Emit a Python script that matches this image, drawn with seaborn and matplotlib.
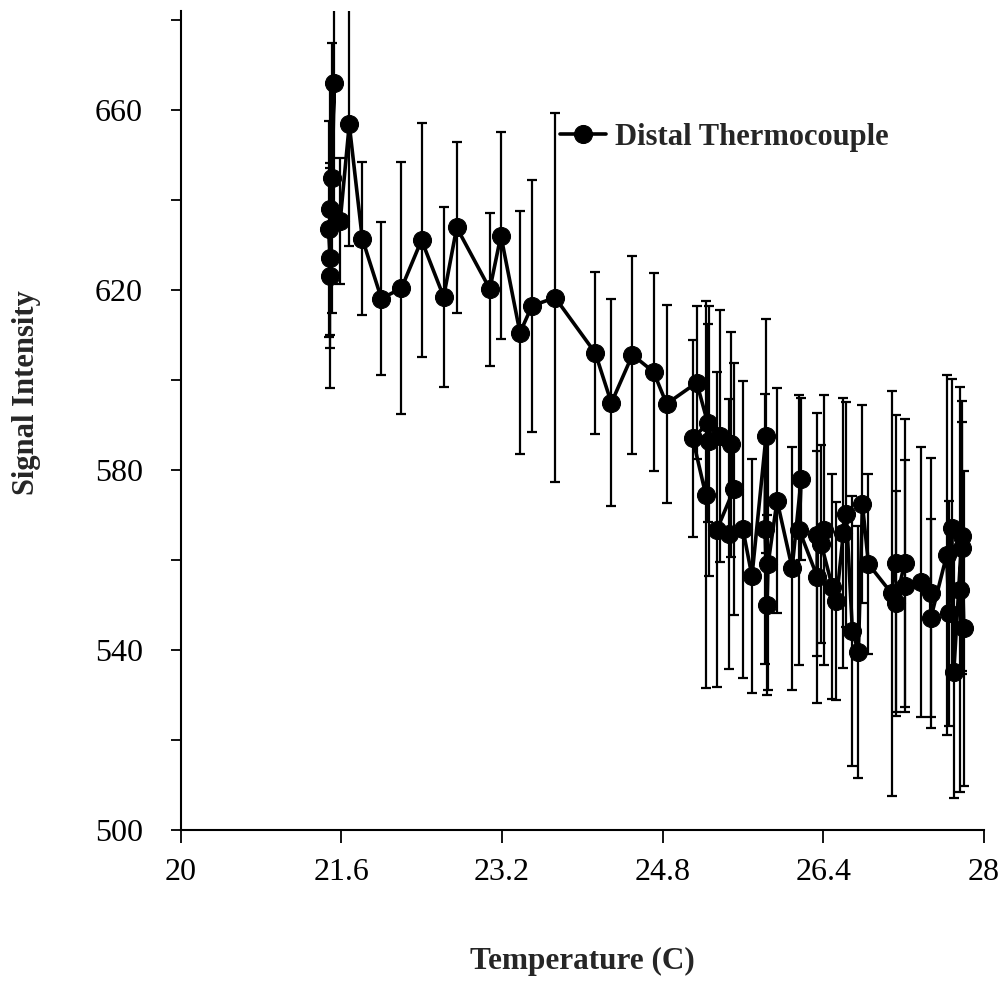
import matplotlib
matplotlib.use("Agg")
import matplotlib.pyplot as plt
import seaborn as sns
import pandas as pd

# ---- data ----
temperature = [21.49, 21.48, 21.49, 21.51, 21.53, 21.49, 21.59, 21.68, 21.81, 22.00,
               22.20, 22.40, 22.62, 22.75, 23.08, 23.19, 23.38, 23.50, 23.73, 24.13,
               24.29, 24.50, 24.71, 24.84, 25.14, 25.25, 25.10, 25.23, 25.26, 25.37,
               25.48, 25.51, 25.34, 25.46, 25.60, 25.69, 25.83, 25.82, 25.84, 25.85,
               25.94, 26.09, 26.18, 26.16, 26.34, 26.34, 26.41, 26.38, 26.49, 26.53,
               26.60, 26.63, 26.69, 26.75, 26.79, 26.85, 27.08, 27.12, 27.21, 27.12,
               27.21, 27.37, 27.47, 27.47, 27.63, 27.65, 27.68, 27.70, 27.78, 27.76,
               27.80, 27.78]
signal = [623.2, 633.5, 627.2, 644.9, 665.9, 637.9, 635.4, 656.8, 631.4, 618.1,
          620.4, 631.1, 618.5, 633.9, 620.2, 632.1, 610.5, 616.5, 618.3, 606.0,
          594.9, 605.6, 601.8, 594.7, 599.4, 590.4, 587.0, 574.5, 586.4, 587.5,
          585.7, 575.7, 566.7, 565.7, 566.8, 556.4, 587.5, 566.8, 549.9, 559.0,
          573.2, 558.2, 578.0, 566.7, 556.3, 565.6, 566.7, 563.5, 554.1, 550.8,
          566.0, 570.2, 544.2, 539.6, 572.4, 559.1, 552.6, 559.3, 559.3, 550.4,
          554.3, 555.0, 552.6, 547.0, 561.2, 548.2, 567.2, 535.2, 565.3, 553.4,
          544.8, 562.7]
error = [25, 24, 20, 30, 30, 28, 14, 27, 17, 17,
         28, 26, 20, 19, 17, 23, 27, 28, 41, 18,
         23, 22, 22, 22, 17, 22, 22, 43, 30, 28,
         25, 28, 35, 30, 33, 26, 26, 30, 20, 28,
         25, 27, 18, 30, 28, 27, 30, 22, 25, 22,
         30, 25, 30, 28, 22, 20, 45, 33, 32, 25,
         28, 30, 30, 22, 40, 25, 33, 28, 30, 45,
         35, 28]
series_name = "Distal Thermocouple"
x_ticks = [20, 21.6, 23.2, 24.8, 26.4, 28]
x_tick_labels = ["20", "21.6", "23.2", "24.8", "26.4", "28"]
y_major = [500, 540, 580, 620, 660]
y_minor = [520, 560, 600, 640, 680]
x_label = "Temperature (C)"
y_label = "Signal Intensity"

df = pd.DataFrame({"Temperature": temperature, "Signal": signal, "Error": error})

sns.set_style("ticks")
plt.rcParams["font.family"] = ["Liberation Serif", "DejaVu Serif"]

fig = plt.figure(figsize=(10.03, 9.85), dpi=100)
ax = fig.add_axes([0.18, 0.1574, 0.981 - 0.18, 0.9888 - 0.1574])

ax.errorbar(df["Temperature"], df["Signal"], yerr=df["Error"], fmt="none",
            ecolor="black", elinewidth=1.6, capsize=3.5, capthick=1.6, zorder=2)
sns.lineplot(data=df, x="Temperature", y="Signal", sort=False, estimator=None,
             color="black", linewidth=2.6, marker="o", markersize=13,
             markeredgecolor="black", markerfacecolor="black",
             label=series_name, ax=ax, zorder=3)

ax.set_xlim(20, 28)
ax.set_ylim(500, 682)
ax.set_xticks(x_ticks)
ax.set_xticklabels(x_tick_labels)
ax.set_yticks(y_major)
ax.set_yticks(y_minor, minor=True)
ax.set_yticklabels([str(v) for v in y_major])

for s in ["top", "right"]:
    ax.spines[s].set_visible(False)
for s in ["left", "bottom"]:
    ax.spines[s].set_linewidth(1.5)
    ax.spines[s].set_color("black")

ax.tick_params(axis="x", direction="out", length=9, width=1.3, pad=11,
               labelsize=23, colors="black")
ax.tick_params(axis="y", which="both", direction="out", length=7, width=1.3,
               pad=20, labelsize=23, colors="black")
ax.tick_params(axis="y", which="minor", length=7)

ax.set_xlabel(x_label, fontsize=22.5, fontweight="bold")
ax.set_ylabel(y_label, fontsize=22, fontweight="bold")
ax.xaxis.set_label_coords(0.5, -0.143)
ax.yaxis.set_label_coords(-0.174, 0.534)

leg = ax.legend(loc="center left", bbox_to_anchor=(560 / 1003, 1 - 137 / 985),
                bbox_transform=fig.transFigure, frameon=False, borderpad=0,
                borderaxespad=0, handlelength=1.5, handletextpad=0.3,
                prop={"family": "Liberation Serif", "weight": "bold", "size": 22})

fig.savefig("out.png", dpi=100)
